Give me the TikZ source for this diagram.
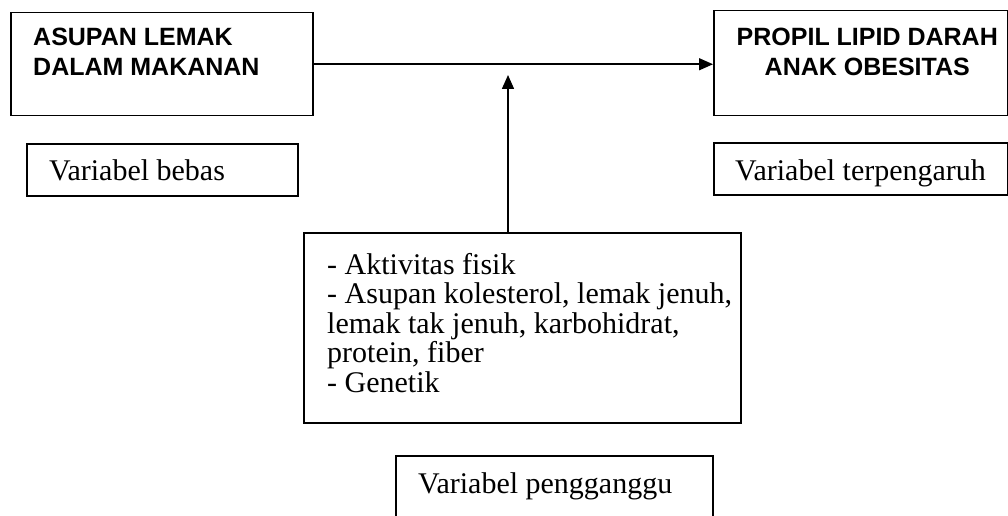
\documentclass[tikz,border=0pt]{standalone}
\usepackage{fontspec}
\setmainfont{Liberation Serif}
\newfontfamily\headfont{Liberation Sans}
\usetikzlibrary{positioning,arrows.meta}

\tikzset{
    varbox/.style={rectangle, draw, line width=1.5pt, anchor=north west, inner sep=0pt},
    headtext/.style={inner sep=0pt, font=\headfont\bfseries\fontsize{25}{29.5}\selectfont},
    vartext/.style={inner sep=0pt, font=\fontsize{30}{29.5}\selectfont},
    arr/.style={line width=1.5pt, -{Triangle[length=14pt,width=12pt]}}
}

\begin{document}
\begin{tikzpicture}[x=1pt, y=-1pt]
    \useasboundingbox (0,0) rectangle (1008,516);

    \node[varbox, minimum width=302pt, minimum height=103pt] (asupan) at (10,12) {};
    \node[varbox, minimum width=294pt, minimum height=105pt] (propil) at (713,10) {};
    \node[varbox, minimum width=271pt, minimum height=52pt] (bebas) at (26,143) {};
    \node[varbox, minimum width=294pt, minimum height=52pt] (terpengaruh) at (713,142) {};
    \node[varbox, minimum width=437pt, minimum height=190pt] (faktor) at (303,232) {};
    \node[varbox, minimum width=317pt, minimum height=62pt] (pengganggu) at (395,455) {};

    \node[headtext, align=left, anchor=north west] (asupan_t) at ([shift={(23,16)}]asupan.north west) {ASUPAN LEMAK\\DALAM MAKANAN};
    \node[headtext, align=center, anchor=north] (propil_t) at ([shift={(6.5,18)}]propil.north) {PROPIL LIPID DARAH\\ANAK OBESITAS};
    \node[vartext, anchor=base west] (bebas_t) at ([shift={(23,37)}]bebas.north west) {Variabel bebas};
    \node[vartext, anchor=base west] (terpengaruh_t) at ([shift={(22,38)}]terpengaruh.north west) {Variabel terpengaruh};
    \node[vartext, align=left, anchor=north west] (faktor_t) at ([shift={(24,21)}]faktor.north west) {- Aktivitas fisik\\- Asupan kolesterol, lemak jenuh,\\lemak tak jenuh, karbohidrat,\\protein, fiber\\- Genetik};
    \node[vartext, anchor=base west] (pengganggu_t) at ([shift={(23,38)}]pengganggu.north west) {Variabel pengganggu};

    \coordinate (meet) at (508,75);
    \draw[arr] (asupan.east) -- (asupan.east -| propil.west);
    \draw[arr] (faktor.north -| meet) -- (meet);
\end{tikzpicture}
\end{document}
